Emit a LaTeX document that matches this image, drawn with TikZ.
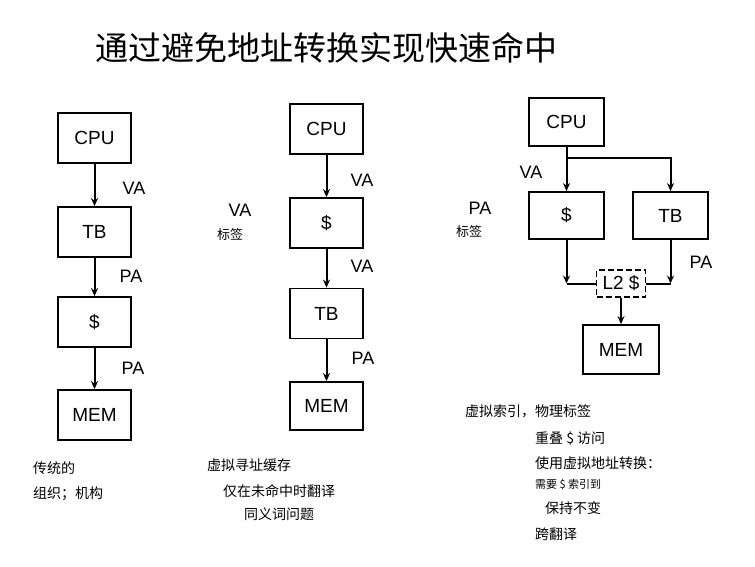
\documentclass[tikz,border=0pt]{standalone}
\usepackage{fontspec}
\setmainfont{Liberation Sans}
\newfontfamily\cjk{Noto Sans CJK SC}
\usetikzlibrary{arrows.meta}
\begin{document}
\begin{tikzpicture}[x=1pt,y=-1pt,
    box/.style={draw, line width=1.8pt, minimum width=73pt, minimum height=50pt, inner sep=0pt, font=\fontsize{19}{22}\selectfont},
    lbl/.style={font=\fontsize{18}{20}\selectfont},
    note/.style={anchor=west, inner sep=0pt, font=\cjk\fontsize{14}{16}\selectfont},
    arr/.style={-{Stealth[length=8pt,width=7pt]}, line width=2pt},
    wire/.style={line width=2pt}]
        \useasboundingbox (0,0) rectangle (755,566);
        \node[font=\cjk\fontsize{33}{36}\selectfont] (title) at (326,48) {通过避免地址转换实现快速命中};
        % traditional
        \node[box] (cpuA) at (94.5,138) {CPU};
        \node[box] (tbA) at (94.5,232) {TB};
        \node[box] (cacheA) at (94.5,322) {\$};
        \node[box] (memA) at (94.5,415) {MEM};
        \draw[arr] (cpuA) -- (tbA);
        \draw[arr] (tbA) -- (cacheA);
        \draw[arr] (cacheA) -- (memA);
        \node[lbl] (vaA) at (134,188) {VA};
        \node[lbl] (paA) at (131,276) {PA};
        \node[lbl] (paA2) at (133,368) {PA};
        \node[note] (noteA1) at (33,468) {传统的};
        \node[note] (noteA2) at (33,494) {组织；机构};
        % virtually addressed cache
        \node[box] (cpuB) at (326.5,129) {CPU};
        \node[box] (cacheB) at (326.5,223) {\$};
        \node[box] (tbB) at (326.5,313.5) {TB};
        \node[box, minimum height=48pt] (memB) at (326.5,406) {MEM};
        \draw[arr] (cpuB) -- (cacheB);
        \draw[arr] (cacheB) -- (tbB);
        \draw[arr] (tbB) -- (memB);
        \node[lbl] (vaB) at (362,180) {VA};
        \node[lbl] (vaB2) at (362,266) {VA};
        \node[lbl] (paB) at (363,358) {PA};
        \node[lbl] (tagvaB) at (240,210) {VA};
        \node[font=\cjk\fontsize{13}{15}\selectfont] (tagB) at (230,235) {标签};
        \node[note] (noteB1) at (207,465) {虚拟寻址缓存};
        \node[note] (noteB2) at (223,491) {仅在未命中时翻译};
        \node[note] (noteB3) at (244,514) {同义词问题};
        % virtually indexed, physically tagged
        \node[box, minimum width=75pt, minimum height=48pt] (cpuC) at (566.5,122) {CPU};
        \node[box, minimum width=75pt, minimum height=47pt] (cacheC) at (566.5,215.5) {\$};
        \node[box, minimum width=75pt, minimum height=47pt] (tbC) at (670.5,215.5) {TB};
        \node[box, dash pattern=on 6pt off 3pt, minimum width=49pt, minimum height=27pt] (l2C) at (621,283.5) {L2 \$};
        \node[box, minimum width=76pt, minimum height=49pt] (memC) at (621,349.5) {MEM};
        \coordinate (split) at (566.5,158);
        \draw[wire] (cpuC) -- (split);
        \draw[arr] (split) -- (cacheC);
        \draw[arr] (split) -| (tbC);
        \draw[arr] (cacheC) -- (cacheC |- l2C.west);
        \draw[wire] (cacheC |- l2C.west) -- (l2C);
        \draw[arr] (tbC) -- (tbC |- l2C.east);
        \draw[wire] (tbC |- l2C.east) -- (l2C);
        \draw[arr] (l2C) -- (memC);
        \node[lbl] (vaC) at (531,172) {VA};
        \node[lbl] (tagpaC) at (480,208) {PA};
        \node[font=\cjk\fontsize{13}{15}\selectfont] (tagC) at (469,232) {标签};
        \node[lbl] (paC) at (701,262) {PA};
        \node[note] (noteC1) at (465,411) {虚拟索引，物理标签};
        \node[note] (noteC2) at (535,438) {重叠 \$ 访问};
        \node[note] (noteC3) at (535,463) {使用虚拟地址转换：};
        \node[note, font=\cjk\fontsize{11}{12}\selectfont] (noteC4) at (535,485) {需要 \$ 索引到};
        \node[note] (noteC5) at (545,508) {保持不变};
        \node[note] (noteC6) at (535,534) {跨翻译};
\end{tikzpicture}
\end{document}
